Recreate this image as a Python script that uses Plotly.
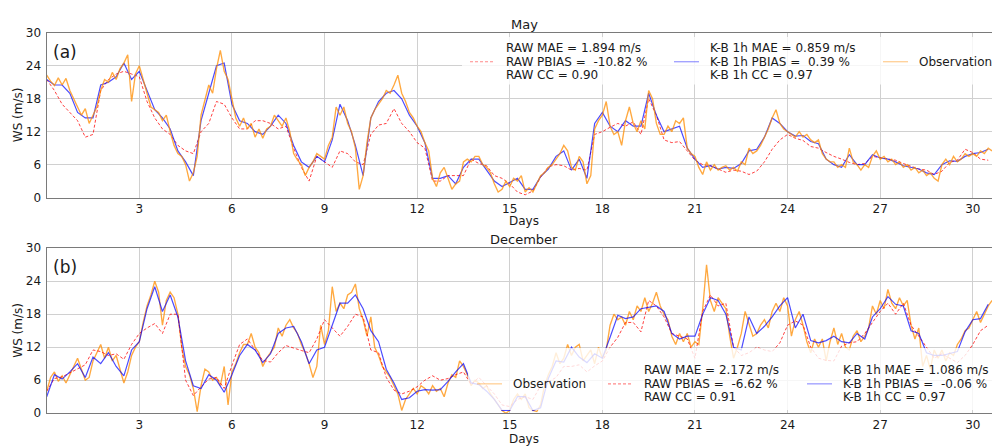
import numpy as np
import plotly.graph_objects as go

# ---------------- DATA ----------------
# May, 6-hourly samples (step 0.25 day)
may_raw = [21.5, 19.5, 17, 15.5, 14, 11, 11.5, 19.5, 21.5, 22.5, 23, 22.5, 22, 17.5, 14.5, 12.5,
           11.5, 9.5, 8.5, 8, 12, 13.5, 17.5, 17, 14.5, 12.5, 12.5, 14, 14, 13.5, 12.5, 13,
           9, 5.5, 3, 7.5, 6.5, 5.5, 8.5, 8, 6.5, 6, 11.5, 13.2, 13.5, 16.2, 13.5, 12,
           10, 9, 3, 3, 4, 4, 4, 7, 6.2, 5.8, 4, 3.5, 2.5, 1, 0.5, 1.2,
           3.7, 5.6, 6, 5.8, 5, 5.3, 5, 11.5, 12, 12.8, 13.5, 13, 13.8, 11.5, 18, 15,
           10.5, 10, 10.2, 8.5, 6.8, 6, 5.8, 5.2, 4.6, 5, 4.8, 4.2, 4.8, 6.5, 8.8, 10.5,
           11.5, 10.8, 10.4, 9.3, 9, 8.2, 7.5, 7, 6.4, 6, 6.2, 7.5, 7.3, 7, 6.8, 6.2,
           5.7, 5.2, 5, 4.2, 4.8, 6.4, 6.8, 8.8, 8.2, 7, 6.8]
may_kb = [21.5, 20.5, 20.5, 19, 15.5, 14.5, 14.5, 20.5, 21, 22, 24.5, 21.5, 23, 19.5, 16, 14.5,
          12.5, 8.5, 6.5, 4, 14, 19, 24, 24.5, 17, 14, 13.5, 12, 11.5, 13, 15, 13.5,
          9.5, 6.5, 5.5, 7.5, 6.5, 10.5, 17, 14, 9.5, 4, 14.5, 17.5, 19, 19.5, 18, 15,
          13, 10, 3.5, 3.5, 4, 2.5, 5.5, 7, 7, 5, 3, 2, 2.8, 3.5, 1.5, 1.5,
          3.8, 5.2, 7.5, 8.5, 5, 7, 3.5, 13.5, 15.5, 13, 12, 14, 13, 13, 19, 15,
          12, 12.5, 13, 9, 7, 5.5, 5.8, 5.2, 5.5, 5.3, 6.2, 8.5, 8.8, 11, 14.5, 13.5,
          12, 11.2, 11.3, 10.2, 9.8, 7, 6, 5.5, 7.8, 6, 6, 7.8, 7.2, 7, 6.5, 5.8,
          5.5, 5.2, 4.5, 4.2, 6, 6.7, 6.6, 7.5, 8, 8.2, 8.8]
# May observations, 3-hourly samples (step 0.125 day)
may_obs = [22.3, 21.2, 20.4, 21.8, 20.5, 21.7, 19.5, 18.0,
           16.5, 15.0, 16.2, 13.5, 15.0, 16.5, 19.5, 21.5,
           21.0, 22.8, 21.5, 23.5, 24.5, 26.0, 17.5, 22.5,
           24.0, 21.5, 19.0, 16.5, 16.0, 15.5, 14.0, 15.0,
           12.0, 9.5, 8.0, 7.5, 6.0, 3.0, 4.5, 7.5,
           15.0, 17.5, 20.5, 19.0, 23.5, 26.8, 23.0, 21.5,
           18.0, 14.5, 13.0, 14.5, 12.5, 13.5, 11.0, 12.5,
           10.8, 12.5, 13.0, 15.0, 14.0, 13.0, 14.5, 12.0,
           8.0, 6.8, 6.0, 4.0, 5.5, 6.5, 8.0, 7.5,
           7.0, 9.5, 11.0, 16.5, 15.0, 16.5, 13.5, 12.0,
           9.0, 1.5, 4.0, 10.0, 14.5, 16.0, 17.0, 18.0,
           19.5, 19.0, 20.5, 22.3, 19.0, 17.5, 15.5, 14.5,
           13.0, 12.0, 10.0, 8.5, 3.5, 2.0, 4.5, 5.5,
           3.5, 1.5, 2.5, 3.0, 6.5, 7.0, 6.5, 7.5,
           7.5, 6.0, 5.5, 4.5, 2.5, 1.0, 1.5, 3.0,
           2.0, 3.5, 3.0, 4.0, 1.0, 1.8, 1.0, 2.5,
           4.0, 4.5, 5.5, 6.0, 7.0, 8.0, 9.5, 8.5,
           5.5, 5.0, 7.5, 6.5, 2.5, 4.0, 12.5, 14.0,
           15.0, 17.5, 13.0, 11.5, 12.0, 9.5, 14.0, 16.5,
           13.5, 12.0, 14.0, 12.5, 19.5, 18.0, 13.5, 11.5,
           11.5, 13.0, 12.0, 14.0, 13.5, 14.5, 9.0, 8.0,
           7.5, 5.5, 4.2, 6.5, 5.0, 6.0, 5.0, 5.5,
           5.8, 5.0, 5.5, 4.8, 6.5, 6.0, 9.0, 8.0,
           8.5, 9.5, 11.0, 12.5, 14.5, 16.0, 13.5, 12.5,
           12.0, 11.5, 11.0, 12.0, 11.0, 11.5, 10.5, 10.0,
           10.5, 8.0, 7.0, 6.5, 6.5, 5.5, 6.0, 5.5,
           9.0, 6.5, 6.0, 5.0, 6.0, 5.5, 7.5, 8.5,
           7.0, 7.5, 6.5, 7.0, 6.0, 6.5, 5.5, 6.0,
           5.0, 5.5, 4.5, 5.0, 4.0, 4.5, 3.5, 3.0,
           6.0, 7.0, 6.0, 7.5, 6.5, 7.0, 8.0, 7.5,
           8.0, 7.5, 8.5, 8.0, 9.0, 8.5]

# December, 6-hourly samples (step 0.25 day)
dec_raw = [4, 6.3, 6.6, 7.3, 8, 8.8, 11.5, 11.2, 10.5, 10.8, 9.8, 12.5, 14.5, 15.5, 16.3, 14.5,
           18, 18, 6, 3.2, 4.8, 6.2, 6.5, 4.5, 8.7, 12.5, 13.5, 11.5, 9.6, 9.3, 11, 12.3,
           11.8, 11.4, 11, 13.5, 17, 15.5, 14, 15.8, 18, 17.5, 11.5, 11, 6.5, 4.2, 3.5, 4,
           4.8, 6, 6.8, 6, 6.3, 7, 7.5, 5.2, 6.5, 5, 3.5, 1.5, 1.2, 2.5, 3, 2.5,
           5, 5.7, 6.5, 8.5, 8.5, 8.8, 7.5, 8.6, 9.5, 12, 13.8, 16.5, 16.5, 14.8, 20.5, 19.5,
           17.5, 14.5, 14, 13.5, 10, 18.5, 21.5, 19.5, 20, 12, 10.5, 11, 12, 11.5, 11.2, 12.8,
           16, 16.8, 16, 12, 10, 9.6, 9.5, 12.2, 12.8, 13, 14.5, 16.5, 18.5, 20, 18, 20,
           16, 14, 12, 10, 10.8, 10, 9.2, 10.5, 12.5, 15, 16]
dec_kb = [3, 7, 6.2, 7.5, 9, 6.5, 10.2, 9, 11, 8.5, 6.8, 11.5, 13, 19, 23, 18.5,
          21.5, 17.5, 9.5, 5, 4.5, 7, 6, 3.8, 7, 10.5, 12.5, 11.5, 9.2, 10.8, 14.5, 15.5,
          15.8, 13, 9, 11.5, 12, 16, 20, 20, 21.5, 19, 15, 13, 8, 5.5, 2.5, 2.8,
          4, 4.3, 4.2, 4.3, 5.8, 7.5, 9, 5.5, 5.2, 4, 2.5, 0.5, 0.5, 3, 3, 0.5,
          1, 6.3, 9.5, 9.3, 12, 10.2, 9.2, 10.8, 10, 13.8, 17.8, 17.2, 17.5, 19, 19.2, 19.5,
          18.5, 14.5, 13.5, 14, 14, 18, 21, 20.5, 18, 12, 11.5, 17.5, 14.5, 15.8, 17.5, 19.5,
          21, 15.5, 18, 13.2, 12.8, 13.2, 14, 13, 12.8, 14.5, 13.5, 17.5, 19, 21.2, 19.8, 19.5,
          15, 14.5, 11, 10.5, 10.5, 10.8, 11.2, 14.8, 17, 17.2, 19.8]
# December observations, 3-hourly samples (step 0.125 day)
dec_obs = [4.0, 6.5, 7.5, 5.8, 6.8, 5.5, 7.0, 8.5,
           10.0, 8.0, 6.0, 6.5, 9.5, 11.0, 12.5, 10.0,
           12.0, 9.5, 10.5, 8.0, 5.5, 7.5, 10.5, 12.0,
           13.0, 16.5, 19.5, 21.5, 24.0, 22.0, 16.0, 20.5,
           22.0, 21.0, 18.0, 12.0, 8.5, 7.0, 4.5, 0.3,
           5.0, 8.0, 7.5, 6.0, 6.5, 5.0, 8.5, 1.5,
           7.5, 9.0, 11.0, 12.5, 12.5, 14.5, 12.0, 11.0,
           8.5, 10.0, 11.0, 12.0, 15.5, 14.0, 16.0, 17.0,
           15.5, 14.5, 12.5, 11.0, 9.0, 6.5, 8.5, 16.0,
           12.5, 15.0, 23.0, 18.5, 20.0, 19.0, 21.5, 22.0,
           23.5, 19.0, 17.0, 14.0, 17.5, 12.0, 10.5, 8.5,
           7.5, 6.5, 5.0, 3.5, 0.5, 2.5, 3.5, 4.5,
           3.5, 5.0, 4.5, 3.5, 5.0, 4.0, 4.5, 3.0,
           5.5, 7.0, 6.5, 9.5, 8.5, 7.0, 5.0, 6.0,
           5.5, 4.5, 5.0, 3.5, 2.5, 1.5, 0.5, 0.0,
           0.5, 2.5, 3.5, 2.5, 3.5, 1.0, 0.5, 0.3,
           1.5, 5.0, 7.0, 8.5, 11.0, 9.0, 10.0, 12.5,
           10.5, 12.0, 12.5, 9.5, 10.5, 11.5, 9.0, 12.0,
           10.0, 11.5, 16.0, 18.0, 17.0, 17.5, 16.0, 18.5,
           17.0, 19.5, 18.5, 21.0, 18.5, 20.0, 22.0, 19.5,
           18.0, 17.0, 14.0, 12.5, 14.5, 13.0, 14.5, 12.0,
           13.0, 12.5, 19.0, 27.0, 20.5, 18.5, 21.0, 20.0,
           19.0, 14.0, 10.0, 12.0, 14.5, 18.5, 16.0, 14.0,
           14.5, 16.0, 17.0, 15.5, 18.5, 20.0, 18.5, 21.0,
           19.5, 14.0, 17.0, 18.5, 16.0, 13.0, 11.0, 13.5,
           12.0, 13.5, 9.5, 13.0, 15.5, 12.5, 14.5, 12.0,
           11.5, 14.0, 15.0, 13.0, 14.0, 15.5, 19.5, 18.0,
           20.5, 19.0, 22.5, 20.0, 19.0, 21.0, 19.5, 20.5,
           16.0, 13.5, 15.5, 8.5, 10.5, 8.0, 11.5, 10.0,
           11.5, 9.5, 11.0, 10.5, 12.5, 13.5, 15.0, 15.5,
           17.0, 18.5, 16.5, 18.0, 19.5, 20.5]

x_ticks = [3, 6, 9, 12, 15, 18, 21, 24, 27, 30]
y_ticks = [0, 6, 12, 18, 24, 30]

may_leg_raw = ["RAW MAE = 1.894 m/s", "RAW PBIAS =  -10.82 %", "RAW CC = 0.90"]
may_leg_kb = ["K-B 1h MAE = 0.859 m/s", "K-B 1h PBIAS =  0.39 %", "K-B 1h CC = 0.97"]
dec_leg_raw = ["RAW MAE = 2.172 m/s", "RAW PBIAS =  -6.62 %", "RAW CC = 0.91"]
dec_leg_kb = ["K-B 1h MAE = 1.086 m/s", "K-B 1h PBIAS =  -0.06 %", "K-B 1h CC = 0.97"]

# ---------------- STYLE ----------------
W, H = 992, 448
FONT = "DejaVu Sans"
TXT = "#1a1a1a"
C_RAW = "rgba(255,0,0,0.75)"
C_KB = "rgba(0,0,255,0.7)"
C_OBS = "rgba(255,140,0,0.75)"
LEG_RAW = "rgba(255,60,60,0.6)"
LEG_KB = "rgba(60,60,255,0.55)"
LEG_OBS = "rgba(255,140,0,0.45)"

def X(px):
    return px / W

def Y(py):
    return 1 - py / H

x_left, x_right = 46.7, 992.0
px_per_day = 30.87
xmax = (x_right - x_left) / px_per_day

top_py = (26.7, 196.7)
bot_py = (249.0, 419.3)

fig = go.Figure()

def t6(n):
    return np.arange(n) * 0.25

def t3(n):
    return np.arange(n) * 0.125

raw_line = dict(color=C_RAW, width=1, dash="3px,2px")
kb_line = dict(color=C_KB, width=1.2)
obs_line = dict(color=C_OBS, width=1.35)

# top panel (May): RAW, K-B, Observation
fig.add_trace(go.Scatter(x=t6(len(may_raw)), y=may_raw, mode="lines", line=raw_line,
                         xaxis="x", yaxis="y", showlegend=False, name="RAW"))
fig.add_trace(go.Scatter(x=t6(len(may_kb)), y=may_kb, mode="lines", line=kb_line,
                         xaxis="x", yaxis="y", showlegend=False, name="K-B 1h"))
fig.add_trace(go.Scatter(x=t3(len(may_obs)), y=may_obs, mode="lines", line=obs_line,
                         xaxis="x", yaxis="y", showlegend=False, name="Observation"))
# bottom panel (December): Observation, RAW, K-B
fig.add_trace(go.Scatter(x=t3(len(dec_obs)), y=dec_obs, mode="lines", line=obs_line,
                         xaxis="x2", yaxis="y2", showlegend=False, name="Observation"))
fig.add_trace(go.Scatter(x=t6(len(dec_raw)), y=dec_raw, mode="lines", line=raw_line,
                         xaxis="x2", yaxis="y2", showlegend=False, name="RAW"))
fig.add_trace(go.Scatter(x=t6(len(dec_kb)), y=dec_kb, mode="lines", line=kb_line,
                         xaxis="x2", yaxis="y2", showlegend=False, name="K-B 1h"))

axis_font = dict(family=FONT, size=12, color=TXT)
xcommon = dict(range=[0, xmax], tickvals=x_ticks, ticktext=[str(v) for v in x_ticks],
               showgrid=True, gridcolor="#d0d0d0", gridwidth=1, zeroline=False,
               showline=True, linecolor="#7a7a7a", linewidth=1.3, mirror=True,
               tickfont=axis_font, ticks="", domain=[X(x_left), 1.0])
ycommon = dict(range=[0, 30], tickvals=y_ticks, ticktext=[str(v) for v in y_ticks],
               showgrid=True, gridcolor="#d0d0d0", gridwidth=1, zeroline=False,
               showline=True, linecolor="#7a7a7a", linewidth=1.3, mirror=False,
               tickfont=axis_font, ticks="", ticklabelstandoff=2)

fig.update_layout(
    width=W, height=H, margin=dict(l=0, r=0, t=0, b=0),
    paper_bgcolor="white", plot_bgcolor="white", showlegend=False,
    xaxis=dict(xcommon, anchor="y"),
    yaxis=dict(ycommon, anchor="x", domain=[Y(top_py[1]), Y(top_py[0])]),
    xaxis2=dict(xcommon, anchor="y2"),
    yaxis2=dict(ycommon, anchor="x2", domain=[Y(bot_py[1]), Y(bot_py[0])]),
)

annotations = []
shapes = []

def txt(x, y, s, size=12, xanchor="center", angle=0):
    annotations.append(dict(x=X(x), y=Y(y), xref="paper", yref="paper", text=s,
                            showarrow=False, xanchor=xanchor, yanchor="middle",
                            textangle=angle, font=dict(family=FONT, size=size, color=TXT)))

# titles / axis labels / panel letters
txt(524, 18.3, "May", size=13)
txt(524, 240, "December", size=13)
txt(524, 220.7, "Days")
txt(524, 446, "Days")
txt(18, (top_py[0] + top_py[1]) / 2, "WS (m/s)", angle=-90)
txt(18, (bot_py[0] + bot_py[1]) / 2, "WS (m/s)", angle=-90)
txt(51, 46, "(a)", size=17, xanchor="left")
txt(51, 268, "(b)", size=17, xanchor="left")

# legend boxes
def box(x0, y0, x1, y1):
    shapes.append(dict(type="rect", xref="paper", yref="paper", layer="above",
                       x0=X(x0), x1=X(x1), y0=Y(y1), y1=Y(y0),
                       fillcolor="rgba(255,255,255,0.8)", line=dict(width=0)))

def entry(x_line, y_mid, lines, color, dash=None, text_dx=34):
    shapes.append(dict(type="line", xref="paper", yref="paper", layer="above",
                       x0=X(x_line), x1=X(x_line + 25), y0=Y(y_mid), y1=Y(y_mid),
                       line=dict(color=color, width=1.2, dash=dash or "solid")))
    n = len(lines)
    for i, s in enumerate(lines):
        txt(x_line + text_dx, y_mid + (i - (n - 1) / 2) * 14, s, xanchor="left")

box(462, 31, 1000, 80)
entry(470, 56.5, may_leg_raw, LEG_RAW, dash="3px,2px")
entry(674, 56.5, may_leg_kb, LEG_KB)
entry(883, 56.5, ["Observation"], LEG_OBS)

box(468, 352, 1000, 416)
entry(477, 389, ["Observation"], LEG_OBS)
entry(608, 389, dec_leg_raw, LEG_RAW, dash="3px,2px")
entry(807, 389, dec_leg_kb, LEG_KB)

fig.update_layout(annotations=annotations, shapes=shapes)
fig.write_html("out.html")
